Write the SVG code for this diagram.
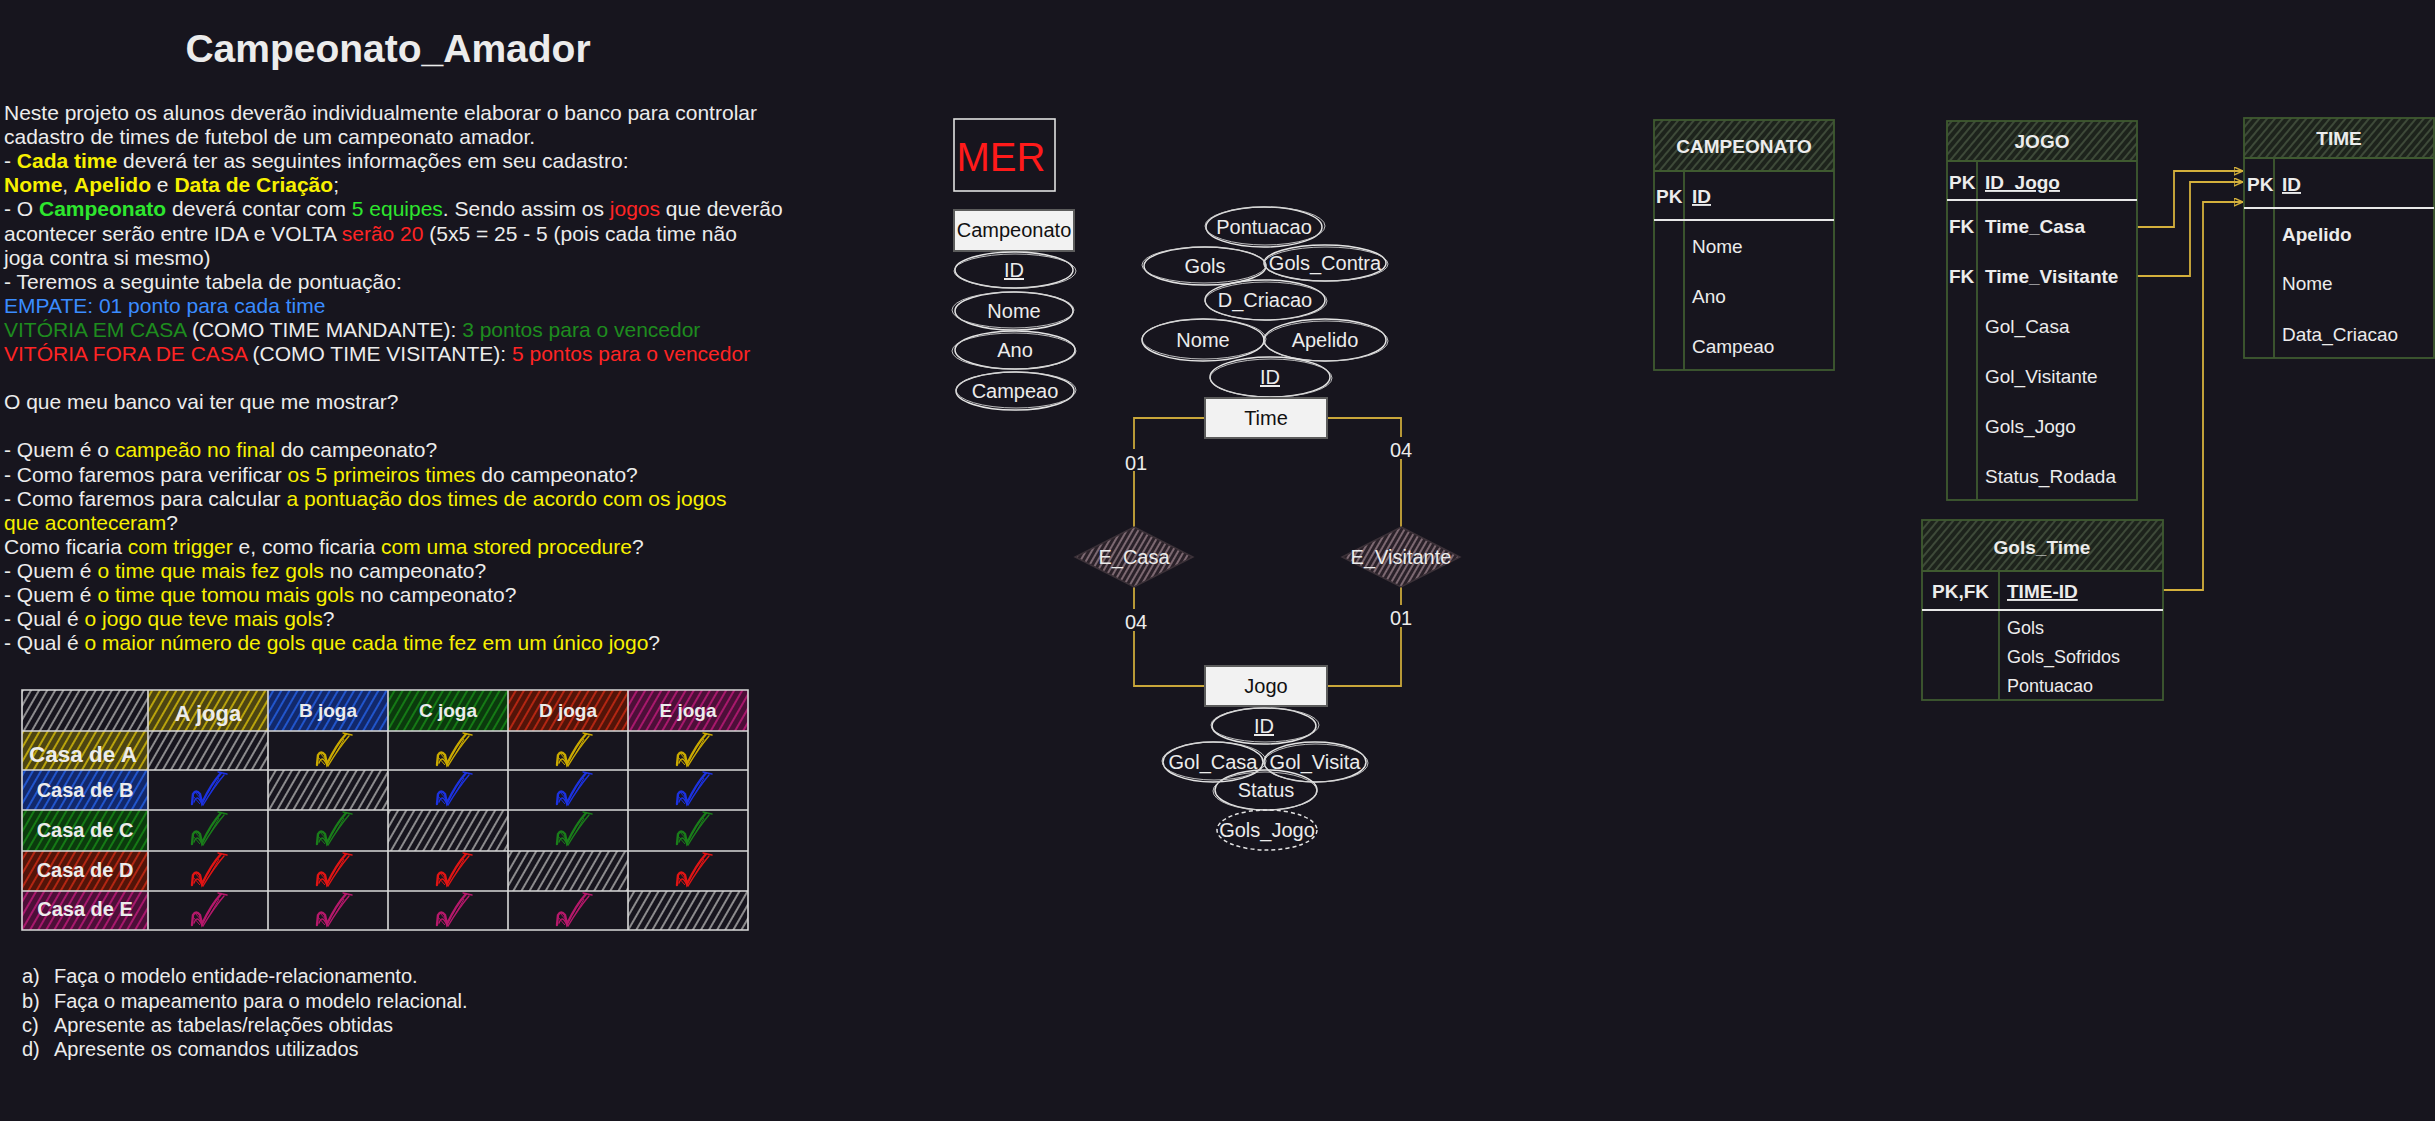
<svg xmlns="http://www.w3.org/2000/svg" width="2435" height="1121" viewBox="0 0 2435 1121">
<style>
text{font-family:"Liberation Sans",Arial,sans-serif;fill:#ececec}
.t{font-size:21px}
.t2{font-size:20px}
.y{fill:#f7f000}
.g{fill:#2ee62e}
.r{fill:#ff2424}
.bl{fill:#3a8cff}
.dg{fill:#1e8c1e}
.b{font-weight:bold}
.grid{fill:none;stroke:#d9d9d9;stroke-width:1.6}
.attr{fill:none;stroke:#e4e4e4;stroke-width:1.5}
.attr2{fill:none;stroke:#cfcfcf;stroke-width:0.9}
.ent{fill:#f2f2f2;stroke:#5c5c5c;stroke-width:2}
.et{fill:#111;font-size:20px;text-anchor:middle}
.at{font-size:20px;text-anchor:middle}
.rel{fill:none;stroke:#c9a73a;stroke-width:1.8}
.card{font-size:20px;text-anchor:middle}
.tbl{fill:none;stroke:#3f5a30;stroke-width:1.8}
.pkl{stroke:#e8e8e8;stroke-width:1.8}
.tt{font-size:19px}
.th{font-size:19px;font-weight:bold;text-anchor:middle}
.fk{fill:none;stroke:#d4b03c;stroke-width:1.8}
</style>
<defs>
<pattern id="hGray" width="7" height="7" patternUnits="userSpaceOnUse" patternTransform="rotate(30)"><line x1="1" y1="0" x2="1" y2="7" stroke="#a9a9a9" stroke-width="1.6"/></pattern>
<pattern id="hYel" width="7" height="7" patternUnits="userSpaceOnUse" patternTransform="rotate(30)"><rect width="7" height="7" fill="#4c4412"/><line x1="1" y1="0" x2="1" y2="7" stroke="#b9a30c" stroke-width="2"/></pattern>
<pattern id="hBlu" width="7" height="7" patternUnits="userSpaceOnUse" patternTransform="rotate(30)"><rect width="7" height="7" fill="#12286a"/><line x1="1" y1="0" x2="1" y2="7" stroke="#2155cc" stroke-width="2"/></pattern>
<pattern id="hGrn" width="7" height="7" patternUnits="userSpaceOnUse" patternTransform="rotate(30)"><rect width="7" height="7" fill="#0b3a0d"/><line x1="1" y1="0" x2="1" y2="7" stroke="#157a15" stroke-width="2"/></pattern>
<pattern id="hRed" width="7" height="7" patternUnits="userSpaceOnUse" patternTransform="rotate(30)"><rect width="7" height="7" fill="#521409"/><line x1="1" y1="0" x2="1" y2="7" stroke="#b32612" stroke-width="2"/></pattern>
<pattern id="hMag" width="7" height="7" patternUnits="userSpaceOnUse" patternTransform="rotate(30)"><rect width="7" height="7" fill="#4c0f38"/><line x1="1" y1="0" x2="1" y2="7" stroke="#a8186c" stroke-width="2"/></pattern>
<pattern id="hEnt" width="6" height="6" patternUnits="userSpaceOnUse" patternTransform="rotate(40)"><rect width="6" height="6" fill="#1d231c"/><line x1="1" y1="0" x2="1" y2="6" stroke="#4f5f48" stroke-width="1.3"/></pattern>
<pattern id="hDia" width="5" height="5" patternUnits="userSpaceOnUse" patternTransform="rotate(30)"><rect width="5" height="5" fill="#2a2129"/><line x1="1" y1="0" x2="1" y2="5" stroke="#a88e98" stroke-width="1.3"/></pattern>
<g id="chk">
<path d="M-13,14 L-12,4 Q-9,-1 -5,4 L-3,13 Q6,-6 16,-17" fill="none" stroke="currentColor" stroke-width="2.4" stroke-linecap="round"/>
<path d="M-11,12 Q-9,6 -6,9 L-2,15 Q8,-2 19,-15 M13,-18 L22,-16" fill="none" stroke="currentColor" stroke-width="1.4" stroke-linecap="round"/>
<path d="M-12,6 L-5,14 M-10,2 L-3,10 M2,4 L9,-9 M6,2 L14,-12" fill="none" stroke="currentColor" stroke-width="1"/>
</g>
<marker id="arr" viewBox="0 0 10 10" refX="10" refY="5" markerWidth="9" markerHeight="9" markerUnits="userSpaceOnUse" orient="auto"><path d="M0,0.5 L10,5 L0,9.5 Z" fill="none" stroke="#d4b03c" stroke-width="1.6"/></marker>
</defs>
<rect width="2435" height="1121" fill="#17151e"/>

<g id="title"><text x="388" y="62" text-anchor="middle" font-size="39" font-weight="bold">Campeonato_Amador</text></g>

<g id="enunciado" class="t">
<text x="4" y="120">Neste projeto os alunos deverão individualmente elaborar o banco para controlar</text>
<text x="4" y="144">cadastro de times de futebol de um campeonato amador.</text>
<text x="4" y="168">- <tspan class="y b">Cada time</tspan> deverá ter as seguintes informações em seu cadastro:</text>
<text x="4" y="192"><tspan class="y b">Nome</tspan>, <tspan class="y b">Apelido</tspan> e <tspan class="y b">Data de Criação</tspan>;</text>
<text x="4" y="216">- O <tspan class="g b">Campeonato</tspan> deverá contar com <tspan class="g">5 equipes</tspan>. Sendo assim os <tspan class="r">jogos</tspan> que deverão</text>
<text x="4" y="241">acontecer serão entre IDA e VOLTA <tspan class="r">serão 20</tspan> (5x5 = 25 - 5 (pois cada time não</text>
<text x="4" y="265">joga contra si mesmo)</text>
<text x="4" y="289">- Teremos a seguinte tabela de pontuação:</text>
<text x="4" y="313" class="bl">EMPATE: 01 ponto para cada time</text>
<text x="4" y="337"><tspan class="dg">VITÓRIA EM CASA</tspan> (COMO TIME MANDANTE): <tspan class="dg">3 pontos para o vencedor</tspan></text>
<text x="4" y="361"><tspan class="r">VITÓRIA FORA DE CASA</tspan> (COMO TIME VISITANTE): <tspan class="r">5 pontos para o vencedor</tspan></text>
<text x="4" y="409">O que meu banco vai ter que me mostrar?</text>
<text x="4" y="457">- Quem é o <tspan class="y">campeão no final</tspan> do campeonato?</text>
<text x="4" y="482">- Como faremos para verificar <tspan class="y">os 5 primeiros times</tspan> do campeonato?</text>
<text x="4" y="506">- Como faremos para calcular <tspan class="y">a pontuação dos times de acordo com os jogos</tspan></text>
<text x="4" y="530"><tspan class="y">que aconteceram</tspan>?</text>
<text x="4" y="554">Como ficaria <tspan class="y">com trigger</tspan> e, como ficaria <tspan class="y">com uma stored procedure</tspan>?</text>
<text x="4" y="578">- Quem é <tspan class="y">o time que mais fez gols</tspan> no campeonato?</text>
<text x="4" y="602">- Quem é <tspan class="y">o time que tomou mais gols</tspan> no campeonato?</text>
<text x="4" y="626">- Qual é <tspan class="y">o jogo que teve mais gols</tspan>?</text>
<text x="4" y="650">- Qual é <tspan class="y">o maior número de gols que cada time fez em um único jogo</tspan>?</text>
</g>

<g id="tabela-jogos">
<rect x="22" y="690" width="126" height="41" fill="url(#hGray)"/>
<rect x="148" y="690" width="120" height="41" fill="url(#hYel)"/>
<rect x="268" y="690" width="120" height="41" fill="url(#hBlu)"/>
<rect x="388" y="690" width="120" height="41" fill="url(#hGrn)"/>
<rect x="508" y="690" width="120" height="41" fill="url(#hRed)"/>
<rect x="628" y="690" width="120" height="41" fill="url(#hMag)"/>
<rect x="22" y="731" width="126" height="39" fill="url(#hYel)"/>
<rect x="22" y="770" width="126" height="40" fill="url(#hBlu)"/>
<rect x="22" y="810" width="126" height="41" fill="url(#hGrn)"/>
<rect x="22" y="851" width="126" height="40" fill="url(#hRed)"/>
<rect x="22" y="891" width="126" height="39" fill="url(#hMag)"/>
<rect x="148" y="731" width="120" height="39" fill="url(#hGray)"/>
<rect x="268" y="770" width="120" height="40" fill="url(#hGray)"/>
<rect x="388" y="810" width="120" height="41" fill="url(#hGray)"/>
<rect x="508" y="851" width="120" height="40" fill="url(#hGray)"/>
<rect x="628" y="891" width="120" height="39" fill="url(#hGray)"/>
<path class="grid" d="M22,690 H748 V930 H22 Z M148,690 V930 M268,690 V930 M388,690 V930 M508,690 V930 M628,690 V930 M22,731 H748 M22,770 H748 M22,810 H748 M22,851 H748 M22,891 H748"/>
<text x="208" y="721" text-anchor="middle" font-size="22" font-weight="bold">A joga</text>
<text x="328" y="717" text-anchor="middle" font-size="19" font-weight="bold">B joga</text>
<text x="448" y="717" text-anchor="middle" font-size="19" font-weight="bold">C joga</text>
<text x="568" y="717" text-anchor="middle" font-size="19" font-weight="bold">D joga</text>
<text x="688" y="717" text-anchor="middle" font-size="19" font-weight="bold">E joga</text>
<text x="83" y="762" text-anchor="middle" font-size="22.5" font-weight="bold">Casa de A</text>
<text x="85" y="797" text-anchor="middle" font-size="20" font-weight="bold">Casa de B</text>
<text x="85" y="837" text-anchor="middle" font-size="20" font-weight="bold">Casa de C</text>
<text x="85" y="877" text-anchor="middle" font-size="20" font-weight="bold">Casa de D</text>
<text x="85" y="916" text-anchor="middle" font-size="20" font-weight="bold">Casa de E</text>
<g style="color:#c9a900">
<use href="#chk" transform="translate(330,751)"/><use href="#chk" transform="translate(450,751)"/><use href="#chk" transform="translate(570,751)"/><use href="#chk" transform="translate(690,751)"/>
</g>
<g style="color:#1c32e0">
<use href="#chk" transform="translate(205,790)"/><use href="#chk" transform="translate(450,790)"/><use href="#chk" transform="translate(570,790)"/><use href="#chk" transform="translate(690,790)"/>
</g>
<g style="color:#1a7d1a">
<use href="#chk" transform="translate(205,830)"/><use href="#chk" transform="translate(330,830)"/><use href="#chk" transform="translate(570,830)"/><use href="#chk" transform="translate(690,830)"/>
</g>
<g style="color:#e01414">
<use href="#chk" transform="translate(205,871)"/><use href="#chk" transform="translate(330,871)"/><use href="#chk" transform="translate(450,871)"/><use href="#chk" transform="translate(690,871)"/>
</g>
<g style="color:#b5186a">
<use href="#chk" transform="translate(205,911)"/><use href="#chk" transform="translate(330,911)"/><use href="#chk" transform="translate(450,911)"/><use href="#chk" transform="translate(570,911)"/>
</g>
</g>

<g id="tarefas" class="t2">
<text x="22" y="983">a)</text><text x="54" y="983">Faça o modelo entidade-relacionamento.</text>
<text x="22" y="1008">b)</text><text x="54" y="1008">Faça o mapeamento para o modelo relacional.</text>
<text x="22" y="1032">c)</text><text x="54" y="1032">Apresente as tabelas/relações obtidas</text>
<text x="22" y="1056">d)</text><text x="54" y="1056">Apresente os comandos utilizados</text>
</g>

<g id="mer-label">
<rect x="954" y="119" width="101" height="72" fill="none" stroke="#e0e0e0" stroke-width="1.6"/>
<text x="1001" y="171" text-anchor="middle" font-size="40" style="fill:#ff1a1a">MER</text>
</g>

<g id="connectors">
<path class="rel" d="M1205,418 H1134 V527"/>
<path class="rel" d="M1327,418 H1401 V527"/>
<path class="rel" d="M1134,587 V686 H1204"/>
<path class="rel" d="M1401,587 V686 H1327"/>
<rect x="1121" y="449" width="30" height="22" fill="#17151e"/><text class="card" x="1136" y="470">01</text>
<rect x="1385" y="437" width="32" height="22" fill="#17151e"/><text class="card" x="1401" y="457">04</text>
<rect x="1119" y="609" width="34" height="22" fill="#17151e"/><text class="card" x="1136" y="629">04</text>
<rect x="1386" y="605" width="30" height="22" fill="#17151e"/><text class="card" x="1401" y="625">01</text>
<path class="fk" d="M2137,227 H2174 V171 H2243" marker-end="url(#arr)"/>
<path class="fk" d="M2137,276 H2190 V182 H2243" marker-end="url(#arr)"/>
<path class="fk" d="M2163,590 H2203 V202 H2243" marker-end="url(#arr)"/>
</g>

<g id="ent-campeonato">
<rect class="ent" x="954" y="210" width="120" height="41"/>
<text class="et" x="1014" y="237">Campeonato</text>
</g>
<g id="attr-campeonato-id"><ellipse class="attr" cx="1014" cy="270" rx="59" ry="18"/><ellipse class="attr2" cx="1015" cy="271" rx="61" ry="17"/><text class="at" x="1014" y="277" text-decoration="underline">ID</text></g>
<g id="attr-campeonato-nome"><ellipse class="attr" cx="1014" cy="311" rx="59" ry="19"/><ellipse class="attr2" cx="1013" cy="310" rx="61" ry="18"/><text class="at" x="1014" y="318">Nome</text></g>
<g id="attr-campeonato-ano"><ellipse class="attr" cx="1015" cy="350" rx="60" ry="19"/><ellipse class="attr2" cx="1014" cy="351" rx="62" ry="18"/><text class="at" x="1015" y="357">Ano</text></g>
<g id="attr-campeonato-campeao"><ellipse class="attr" cx="1015" cy="391" rx="59" ry="19"/><ellipse class="attr2" cx="1016" cy="390" rx="60" ry="18"/><text class="at" x="1015" y="398">Campeao</text></g>

<g id="attr-time-pontuacao"><ellipse class="attr" cx="1264" cy="227" rx="58" ry="20"/><ellipse class="attr2" cx="1265" cy="226" rx="60" ry="19"/><text class="at" x="1264" y="234">Pontuacao</text></g>
<g id="attr-time-gols"><ellipse class="attr" cx="1205" cy="266" rx="61" ry="19"/><ellipse class="attr2" cx="1204" cy="265" rx="62" ry="18"/><text class="at" x="1205" y="273">Gols</text></g>
<g id="attr-time-golscontra"><ellipse class="attr" cx="1325" cy="263" rx="61" ry="18"/><ellipse class="attr2" cx="1326" cy="264" rx="62" ry="17"/><text class="at" x="1325" y="270">Gols_Contra</text></g>
<g id="attr-time-dcriacao"><ellipse class="attr" cx="1265" cy="300" rx="60" ry="20"/><ellipse class="attr2" cx="1266" cy="301" rx="61" ry="19"/><text class="at" x="1265" y="307">D_Criacao</text></g>
<g id="attr-time-nome"><ellipse class="attr" cx="1203" cy="340" rx="61" ry="21"/><ellipse class="attr2" cx="1204" cy="339" rx="62" ry="20"/><text class="at" x="1203" y="347">Nome</text></g>
<g id="attr-time-apelido"><ellipse class="attr" cx="1325" cy="340" rx="61" ry="21"/><ellipse class="attr2" cx="1326" cy="341" rx="62" ry="20"/><text class="at" x="1325" y="347">Apelido</text></g>
<g id="attr-time-id"><ellipse class="attr" cx="1270" cy="377" rx="60" ry="20"/><ellipse class="attr2" cx="1271" cy="378" rx="61" ry="19"/><text class="at" x="1270" y="384" text-decoration="underline">ID</text></g>

<g id="ent-time">
<rect class="ent" x="1205" y="398" width="122" height="40"/>
<text class="et" x="1266" y="425">Time</text>
</g>

<g id="rel-ecasa">
<polygon points="1134,527 1193,557 1134,587 1075,557" fill="url(#hDia)" stroke="#3b3138" stroke-width="1.5"/>
<text class="at" x="1134" y="564">E_Casa</text>
</g>
<g id="rel-evisitante">
<polygon points="1401,527 1460,557 1401,587 1342,557" fill="url(#hDia)" stroke="#3b3138" stroke-width="1.5"/>
<text class="at" x="1401" y="564">E_Visitante</text>
</g>

<g id="ent-jogo">
<rect class="ent" x="1205" y="666" width="122" height="40"/>
<text class="et" x="1266" y="693">Jogo</text>
</g>
<g id="attr-jogo-id"><ellipse class="attr" cx="1264" cy="726" rx="52" ry="18"/><ellipse class="attr2" cx="1265" cy="725" rx="54" ry="17"/><text class="at" x="1264" y="733" text-decoration="underline">ID</text></g>
<g id="attr-jogo-golcasa"><ellipse class="attr" cx="1213" cy="762" rx="50" ry="20"/><ellipse class="attr2" cx="1214" cy="761" rx="52" ry="19"/><text class="at" x="1213" y="769">Gol_Casa</text></g>
<g id="attr-jogo-golvisita"><ellipse class="attr" cx="1315" cy="762" rx="51" ry="20"/><ellipse class="attr2" cx="1316" cy="763" rx="52" ry="19"/><text class="at" x="1315" y="769">Gol_Visita</text></g>
<g id="attr-jogo-status"><ellipse class="attr" cx="1266" cy="790" rx="51" ry="20"/><ellipse class="attr2" cx="1265" cy="791" rx="52" ry="19"/><text class="at" x="1266" y="797">Status</text></g>
<g id="attr-jogo-golsjogo"><ellipse cx="1267" cy="830" rx="50" ry="20" fill="none" stroke="#e4e4e4" stroke-width="1.5" stroke-dasharray="4 3"/><text class="at" x="1267" y="837">Gols_Jogo</text></g>

<g id="tbl-campeonato">
<rect x="1654" y="120" width="180" height="51" fill="url(#hEnt)"/>
<rect class="tbl" x="1654" y="120" width="180" height="250"/>
<line class="tbl" x1="1654" y1="171" x2="1834" y2="171"/>
<line class="tbl" x1="1684" y1="171" x2="1684" y2="370"/>
<line class="pkl" x1="1654" y1="220" x2="1834" y2="220"/>
<text class="th" x="1744" y="153">CAMPEONATO</text>
<text class="tt b" x="1656" y="203">PK</text>
<text class="tt b" x="1692" y="203" text-decoration="underline">ID</text>
<text class="tt" x="1692" y="253">Nome</text>
<text class="tt" x="1692" y="303">Ano</text>
<text class="tt" x="1692" y="353">Campeao</text>
</g>

<g id="tbl-jogo">
<rect x="1947" y="121" width="190" height="40" fill="url(#hEnt)"/>
<rect class="tbl" x="1947" y="121" width="190" height="379"/>
<line class="tbl" x1="1947" y1="161" x2="2137" y2="161"/>
<line class="tbl" x1="1977" y1="161" x2="1977" y2="500"/>
<line class="pkl" x1="1947" y1="200" x2="2137" y2="200"/>
<text class="th" x="2042" y="148">JOGO</text>
<text class="tt b" x="1949" y="189">PK</text>
<text class="tt b" x="1985" y="189" text-decoration="underline">ID_Jogo</text>
<text class="tt b" x="1949" y="233">FK</text>
<text class="tt b" x="1985" y="233">Time_Casa</text>
<text class="tt b" x="1949" y="283">FK</text>
<text class="tt b" x="1985" y="283">Time_Visitante</text>
<text class="tt" x="1985" y="333">Gol_Casa</text>
<text class="tt" x="1985" y="383">Gol_Visitante</text>
<text class="tt" x="1985" y="433">Gols_Jogo</text>
<text class="tt" x="1985" y="483">Status_Rodada</text>
</g>

<g id="tbl-time">
<rect x="2244" y="118" width="190" height="40" fill="url(#hEnt)"/>
<rect class="tbl" x="2244" y="118" width="190" height="240"/>
<line class="tbl" x1="2244" y1="158" x2="2434" y2="158"/>
<line class="tbl" x1="2274" y1="158" x2="2274" y2="358"/>
<line class="pkl" x1="2244" y1="208" x2="2434" y2="208"/>
<text class="th" x="2339" y="145">TIME</text>
<text class="tt b" x="2247" y="191">PK</text>
<text class="tt b" x="2282" y="191" text-decoration="underline">ID</text>
<text class="tt b" x="2282" y="241">Apelido</text>
<text class="tt" x="2282" y="290">Nome</text>
<text class="tt" x="2282" y="341">Data_Criacao</text>
</g>

<g id="tbl-gols-time">
<rect x="1922" y="520" width="241" height="51" fill="url(#hEnt)"/>
<rect class="tbl" x="1922" y="520" width="241" height="180"/>
<line class="tbl" x1="1922" y1="571" x2="2163" y2="571"/>
<line class="tbl" x1="1999" y1="571" x2="1999" y2="700"/>
<line class="pkl" x1="1922" y1="610" x2="2163" y2="610"/>
<text class="th" x="2042" y="554">Gols_Time</text>
<text class="tt b" x="1932" y="598">PK,FK</text>
<text class="tt b" x="2007" y="598" text-decoration="underline">TIME-ID</text>
<text x="2007" y="634" font-size="18">Gols</text>
<text x="2007" y="663" font-size="18">Gols_Sofridos</text>
<text x="2007" y="692" font-size="18">Pontuacao</text>
</g>
</svg>
